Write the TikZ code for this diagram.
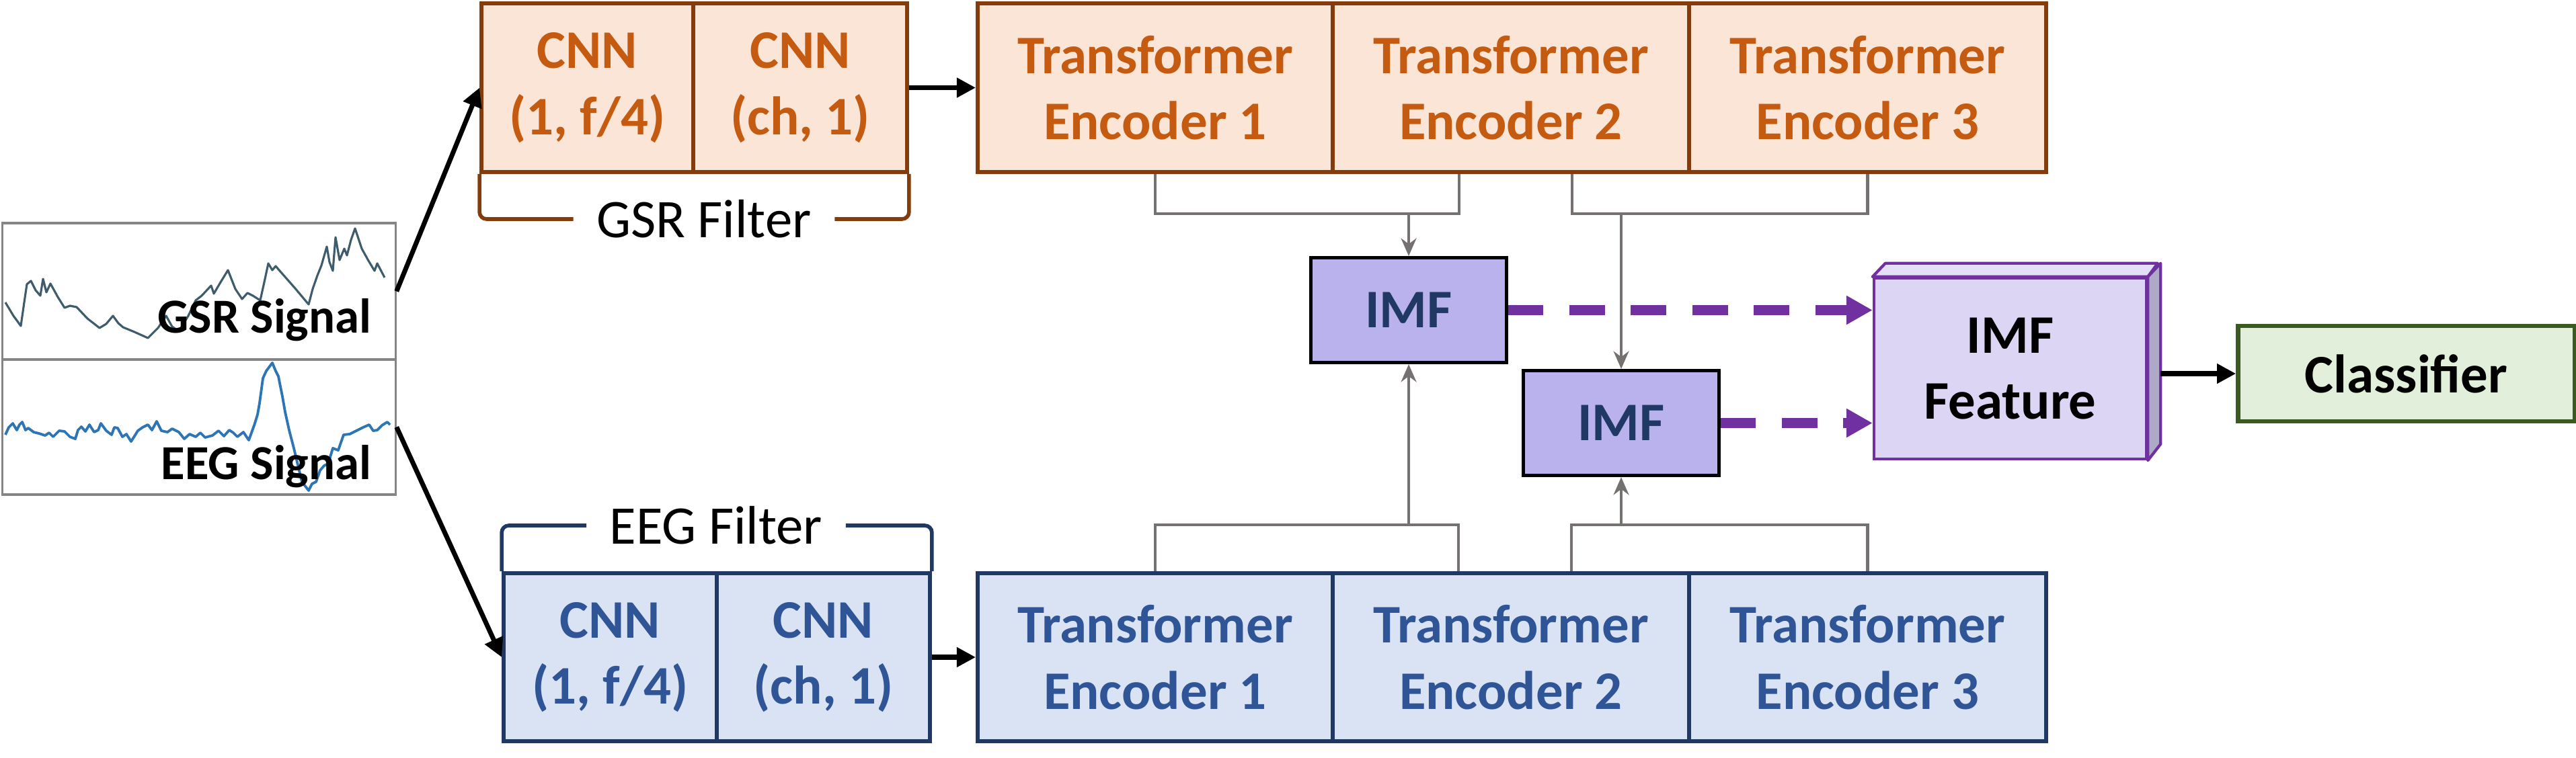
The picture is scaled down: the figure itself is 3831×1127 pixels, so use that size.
\documentclass[tikz,border=0pt]{standalone}
\usepackage{fontspec}
\setmainfont{Carlito}
\usetikzlibrary{arrows.meta}

\definecolor{gsrfill}{HTML}{FBE5D6}
\definecolor{gsrline}{HTML}{843C0C}
\definecolor{gsrtext}{HTML}{C55A11}
\definecolor{eegfill}{HTML}{DAE3F3}
\definecolor{eegline}{HTML}{203864}
\definecolor{eegtext}{HTML}{2F5597}
\definecolor{imffill}{HTML}{BAB2EC}
\definecolor{imftext}{HTML}{1F3864}
\definecolor{featfill}{HTML}{DCD6F4}
\definecolor{feattop}{HTML}{E3DFF7}
\definecolor{featside}{HTML}{AFA9C8}
\definecolor{featline}{HTML}{7030A0}
\definecolor{clffill}{HTML}{E2EFDA}
\definecolor{clfline}{HTML}{3B5A22}
\definecolor{linkgray}{HTML}{767171}
\definecolor{gsrwave}{HTML}{3E5C6B}
\definecolor{eegwave}{HTML}{2E75B6}
\definecolor{sigframe}{HTML}{858585}

\newcommand{\boxfont}[0] {\fontsize{23}{28}\selectfont\bfseries}
\newcommand{\labfont}[0] {\fontsize{23}{28}\selectfont}
\newcommand{\sigfont}[0] {\fontsize{20.7}{25}\selectfont\bfseries}

\tikzset{
  gsrbox/.style={shape=rectangle, draw=gsrline, fill=gsrfill, line width=1.6pt, text=gsrtext, font=\boxfont, align=center, minimum height=2.51cm, inner sep=0pt},
  eegbox/.style={shape=rectangle, draw=eegline, fill=eegfill, line width=1.6pt, text=eegtext, font=\boxfont, align=center, minimum height=2.5cm, inner sep=0pt},
  imfbox/.style={shape=rectangle, draw=black, fill=imffill, line width=1.4pt, text=imftext, font=\boxfont, minimum width=2.9cm, minimum height=1.56cm},
  sigbox/.style={shape=rectangle, draw=sigframe, line width=0.9pt, minimum width=5.84cm, inner sep=0pt},
  siglabel/.style={font=\sigfont, inner sep=0pt},
  filterlabel/.style={font=\labfont, inner xsep=0.34cm, inner ysep=0pt},
  link/.style={draw=linkgray, line width=1.3pt},
  uplink/.style={color=linkgray, line width=1.3pt, -{Stealth[length=7.5pt,width=6.5pt]}},
  mainarrow/.style={line width=2pt, -{Triangle[length=8pt,width=8pt]}},
  imfarrow/.style={color=featline, line width=4pt, dash pattern=on 15pt off 11pt, -{Triangle[length=11pt,width=11.5pt]}},
}

\begin{document}
\begin{tikzpicture}[x=0.01cm, y=-0.01cm]
        \useasboundingbox (0,0) rectangle (3831,1127);

        % input signals
        \node[sigbox, minimum height=2.03cm] (gsrsig) at (296,433.5) {};
        \node[sigbox, minimum height=2.01cm] (eegsig) at (296,635.5) {};
        \draw[gsrwave, line width=0.9pt, line join=round] (8,450) -- (20,470) -- (31,485) -- (36,450) -- (40,423) -- (46,418) -- (53,432) -- (60,440) -- (64,415) -- (69,435) -- (75,422) -- (86,442) -- (96,458) -- (104,455) -- (114,457) -- (130,474) -- (148,488) -- (158,482) -- (168,470) -- (176,481) -- (183,487) -- (200,494) -- (220,503) -- (235,488) -- (247,470) -- (256,486) -- (266,493) -- (280,470) -- (291,447) -- (300,440) -- (314,425) -- (318,437) -- (328,420) -- (339,402) -- (350,430) -- (360,445) -- (368,436) -- (376,440) -- (387,447) -- (393,420) -- (399,392) -- (405,402) -- (410,396) -- (416,403) -- (438,428) -- (459,453) -- (465,430) -- (472,410) -- (478,395) -- (486,367) -- (490,390) -- (495,403) -- (499,353) -- (505,387) -- (512,370) -- (516,380) -- (522,357) -- (528,340) -- (538,370) -- (548,388) -- (557,403) -- (561,392) -- (572,413);
        \draw[eegwave, line width=1.1pt, line join=round] (8,647) -- (13,636) -- (19,630) -- (25,640) -- (29,632) -- (33,628) -- (38,640) -- (42,637) -- (50,643) -- (58,645) -- (67,648) -- (73,644) -- (79,650) -- (88,641) -- (96,642) -- (104,650) -- (112,653) -- (116,640) -- (121,635) -- (127,642) -- (133,632) -- (140,643) -- (146,640) -- (150,630) -- (158,641) -- (166,647) -- (170,636) -- (175,637) -- (182,650) -- (188,646) -- (195,657) -- (205,641) -- (212,636) -- (220,632) -- (226,640) -- (233,627) -- (240,641) -- (249,643) -- (256,638) -- (266,643) -- (274,653) -- (282,646) -- (291,650) -- (298,644) -- (305,651) -- (316,648) -- (325,641) -- (333,649) -- (341,640) -- (347,644) -- (353,650) -- (362,643) -- (370,655) -- (378,633) -- (383,617) -- (386,600) -- (391,563) -- (396,552) -- (405,540) -- (410,552) -- (414,560) -- (420,590) -- (424,613) -- (430,640) -- (437,667) -- (443,692) -- (449,717) -- (459,730) -- (464,720) -- (470,717) -- (476,700) -- (482,693) -- (488,690) -- (495,667) -- (503,670) -- (511,647) -- (520,646) -- (532,640) -- (540,636) -- (549,632) -- (555,641) -- (561,640) -- (568,633) -- (576,628) -- (580,632);
        \node[siglabel, anchor=base east] (gsrlab) at (553,495) {GSR Signal};
        \node[siglabel, anchor=base east] (eeglab) at (553,713) {EEG Signal};

        % GSR branch
        \node[gsrbox, minimum width=3.15cm] (gcnnA) at (873.5,130.5) {CNN\\(1, f/4)};
        \node[gsrbox, minimum width=3.18cm] (gcnnB) at (1190,130.5) {CNN\\(ch, 1)};
        \node[gsrbox, minimum width=5.28cm] (gtfA) at (1718,130.5) {Transformer\\Encoder 1};
        \node[gsrbox, minimum width=5.30cm] (gtfB) at (2247,130.5) {Transformer\\Encoder 2};
        \node[gsrbox, minimum width=5.31cm] (gtfC) at (2777.5,130.5) {Transformer\\Encoder 3};
        \node[filterlabel] (gfilt) at (1047,326) {GSR Filter};

        % EEG branch
        \node[eegbox, minimum width=3.17cm] (ecnnA) at (907.5,978) {CNN\\(1, f/4)};
        \node[eegbox, minimum width=3.17cm] (ecnnB) at (1224.5,978) {CNN\\(ch, 1)};
        \node[eegbox, minimum width=5.28cm] (etfA) at (1718,978) {Transformer\\Encoder 1};
        \node[eegbox, minimum width=5.30cm] (etfB) at (2247,978) {Transformer\\Encoder 2};
        \node[eegbox, minimum width=5.31cm] (etfC) at (2777.5,978) {Transformer\\Encoder 3};
        \node[filterlabel] (efilt) at (1065,782) {EEG Filter};

        % fusion
        \node[imfbox] (imfA) at (2095,461.5) {IMF};
        \node[imfbox] (imfB) at (2411,629.5) {IMF};
        \node[shape=rectangle, draw=featline, fill=featfill, line width=1.2pt, font=\boxfont, align=center, minimum width=4.05cm, minimum height=2.69cm] (feat) at (2989.5,548.5) {IMF\\Feature};
        \draw[featline, fill=feattop, line width=1.2pt, line join=round] (feat.north west) -- ++(19,-20) -- ++(405,0) -- (feat.north east) -- cycle;
        \draw[featline, fill=featside, line width=1.2pt, line join=round] (feat.north east) -- ++(19,-20) -- ++(0,269) -- (feat.south east) -- cycle;
        \node[shape=rectangle, draw=clfline, fill=clffill, line width=1.8pt, font=\boxfont, minimum width=5.0cm, minimum height=1.42cm] (clf) at (3578.5,556) {Classifier};

        % filter braces
        \draw[gsrline, line width=1.6pt, rounded corners=3pt] (gcnnA.south west) |- (gfilt.west);
        \draw[gsrline, line width=1.6pt, rounded corners=3pt] (gcnnB.south east) |- (gfilt.east);
        \draw[eegline, line width=1.6pt, rounded corners=3pt] (ecnnA.north west) |- (efilt.west);
        \draw[eegline, line width=1.6pt, rounded corners=3pt] (ecnnB.north east) |- (efilt.east);

        % main flow
        \path[mainarrow] (gsrsig.east) edge (gcnnA.west);
        \path[mainarrow] (eegsig.east) edge (ecnnA.west);
        \path[mainarrow] (gcnnB.east) edge (gtfA.west);
        \path[mainarrow] (ecnnB.east) edge (etfA.west);
        \path[mainarrow] ([xshift=0.19cm]feat.east |- clf.west) edge (clf.west);

        % encoder pairs into the IMF blocks
        \coordinate (gjoinA) at (2095,318);
        \coordinate (gjoinB) at (2411,318);
        \coordinate (ejoinA) at (2095,781);
        \coordinate (ejoinB) at (2411,781);
        \draw[link] (gtfA.south) |- (gjoinA) -| ([xshift=-0.77cm]gtfB.south);
        \draw[link] ([xshift=0.91cm]gtfB.south) |- (gjoinB) -| (gtfC.south);
        \draw[link] (etfA.north) |- (ejoinA) -| ([xshift=-0.78cm]etfB.north);
        \draw[link] ([xshift=0.90cm]etfB.north) |- (ejoinB) -| (etfC.north);
        \path[uplink] (gjoinA) edge (imfA.north);
        \path[uplink] (gjoinB) edge (imfB.north);
        \path[uplink] (ejoinA) edge (imfA.south);
        \path[uplink] (ejoinB) edge (imfB.south);

        %IMF outputs to the feature block
        \path[imfarrow] (imfA.east) edge (feat.west |- imfA.east);
        \path[imfarrow] (imfB.east) edge (feat.west |- imfB.east);
\end{tikzpicture}
\end{document}
